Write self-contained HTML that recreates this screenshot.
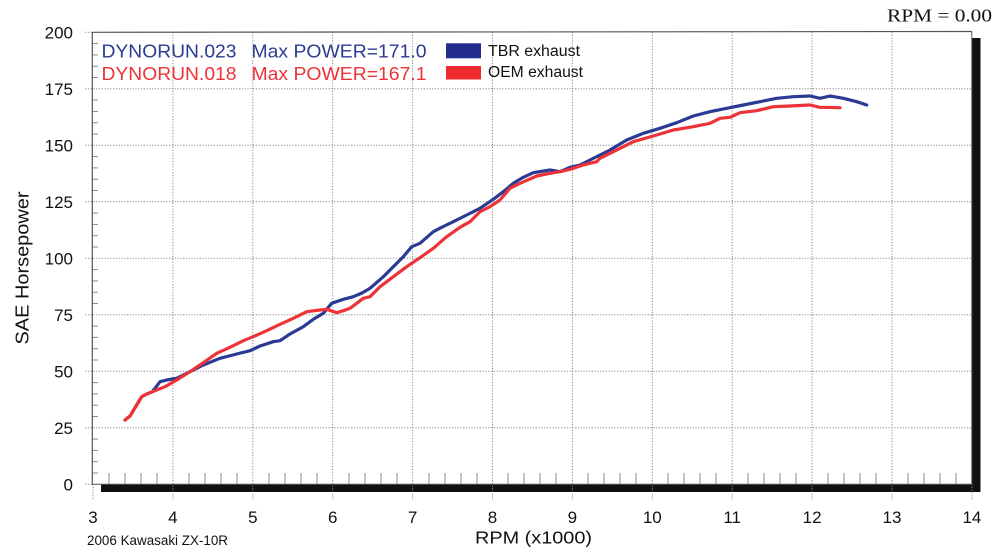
<!DOCTYPE html>
<html>
<head>
<meta charset="utf-8">
<style>
  html, body { margin: 0; padding: 0; background: #ffffff; }
  svg { display: block; }
  text { font-family: "Liberation Sans", Arial, sans-serif; }
</style>
</head>
<body>
<svg width="1000" height="554" viewBox="0 0 1000 554" xmlns="http://www.w3.org/2000/svg">
  <rect x="0" y="0" width="1000" height="554" fill="#ffffff"/>

  <!-- shadow bars -->
  <rect x="972" y="38" width="8.5" height="454" fill="#111"/>
  <rect x="101" y="484.5" width="879.5" height="7.5" fill="#111"/>

  <!-- grid: vertical -->
  <g stroke="#8a8a8a" stroke-width="1" stroke-dasharray="1.2,1.6" fill="none">
    <line x1="172.9" y1="32" x2="172.9" y2="500"/>
    <line x1="252.8" y1="32" x2="252.8" y2="500"/>
    <line x1="332.7" y1="32" x2="332.7" y2="500"/>
    <line x1="412.6" y1="32" x2="412.6" y2="500"/>
    <line x1="492.5" y1="32" x2="492.5" y2="500"/>
    <line x1="572.4" y1="32" x2="572.4" y2="500"/>
    <line x1="652.3" y1="32" x2="652.3" y2="500"/>
    <line x1="732.2" y1="32" x2="732.2" y2="500"/>
    <line x1="812.1" y1="32" x2="812.1" y2="500"/>
    <line x1="892.0" y1="32" x2="892.0" y2="500"/>
    <line x1="93" y1="484" x2="93" y2="500"/>
    <line x1="971.9" y1="484" x2="971.9" y2="500"/>
    <!-- horizontal -->
    <line x1="85" y1="427.8" x2="972" y2="427.8"/>
    <line x1="85" y1="371.3" x2="972" y2="371.3"/>
    <line x1="85" y1="314.8" x2="972" y2="314.8"/>
    <line x1="85" y1="258.3" x2="972" y2="258.3"/>
    <line x1="85" y1="201.8" x2="972" y2="201.8"/>
    <line x1="85" y1="145.3" x2="972" y2="145.3"/>
    <line x1="85" y1="88.8" x2="972" y2="88.8"/>
    <line x1="85" y1="32.3" x2="92" y2="32.3"/>
    <line x1="85" y1="484.3" x2="92" y2="484.3"/>
  </g>

  <!-- left minor ticks (every 5 hp) -->
  <g stroke="#8a8a8a" stroke-width="1">
    <line x1="92" y1="473" x2="98" y2="473"/><line x1="92" y1="461.7" x2="98" y2="461.7"/><line x1="92" y1="450.4" x2="98" y2="450.4"/><line x1="92" y1="439.1" x2="98" y2="439.1"/>
    <line x1="92" y1="416.5" x2="98" y2="416.5"/><line x1="92" y1="405.2" x2="98" y2="405.2"/><line x1="92" y1="393.9" x2="98" y2="393.9"/><line x1="92" y1="382.6" x2="98" y2="382.6"/>
    <line x1="92" y1="360" x2="98" y2="360"/><line x1="92" y1="348.7" x2="98" y2="348.7"/><line x1="92" y1="337.4" x2="98" y2="337.4"/><line x1="92" y1="326.1" x2="98" y2="326.1"/>
    <line x1="92" y1="303.5" x2="98" y2="303.5"/><line x1="92" y1="292.2" x2="98" y2="292.2"/><line x1="92" y1="280.9" x2="98" y2="280.9"/><line x1="92" y1="269.6" x2="98" y2="269.6"/>
    <line x1="92" y1="247" x2="98" y2="247"/><line x1="92" y1="235.7" x2="98" y2="235.7"/><line x1="92" y1="224.4" x2="98" y2="224.4"/><line x1="92" y1="213.1" x2="98" y2="213.1"/>
    <line x1="92" y1="190.5" x2="98" y2="190.5"/><line x1="92" y1="179.2" x2="98" y2="179.2"/><line x1="92" y1="167.9" x2="98" y2="167.9"/><line x1="92" y1="156.6" x2="98" y2="156.6"/>
    <line x1="92" y1="134" x2="98" y2="134"/><line x1="92" y1="122.7" x2="98" y2="122.7"/><line x1="92" y1="111.4" x2="98" y2="111.4"/><line x1="92" y1="100.1" x2="98" y2="100.1"/>
    <line x1="92" y1="77.5" x2="98" y2="77.5"/><line x1="92" y1="66.2" x2="98" y2="66.2"/><line x1="92" y1="54.9" x2="98" y2="54.9"/><line x1="92" y1="43.6" x2="98" y2="43.6"/>
  </g>

  <!-- bottom minor ticks (every 200 rpm) -->
  <g stroke="#8a8a8a" stroke-width="1" id="bt">
    <path d="M109,473V484 M125,473V484 M141,473V484 M157,473V484
             M189,473V484 M205,473V484 M221,473V484 M237,473V484
             M269,473V484 M285,473V484 M301,473V484 M317,473V484
             M349,473V484 M365,473V484 M381,473V484 M397,473V484
             M429,473V484 M445,473V484 M461,473V484 M477,473V484
             M508,473V484 M524,473V484 M540,473V484 M556,473V484
             M588,473V484 M604,473V484 M620,473V484 M636,473V484
             M668,473V484 M684,473V484 M700,473V484 M716,473V484
             M748,473V484 M764,473V484 M780,473V484 M796,473V484
             M828,473V484 M844,473V484 M860,473V484 M876,473V484
             M908,473V484 M924,473V484 M940,473V484 M956,473V484" fill="none"/>
  </g>

  <!-- plot borders -->
  <line x1="92" y1="32.3" x2="972" y2="31.5" stroke="#555" stroke-width="1.2"/>
  <line x1="92.3" y1="32" x2="92.3" y2="485" stroke="#555" stroke-width="1.2"/>
  <line x1="971.8" y1="31.5" x2="971.8" y2="485" stroke="#555" stroke-width="1"/>
  <line x1="92" y1="484.3" x2="972" y2="484.3" stroke="#555" stroke-width="1"/>

  <!-- blue: TBR exhaust -->
  <polyline fill="none" stroke="#2b3a92" stroke-width="3.2" stroke-linejoin="round" stroke-linecap="round"
    points="125,420 130,416 141.7,396.7 146.7,394 152,392 155,388.3 160,381.7 166.7,380 176.7,378.3 190,371.7 203.3,365 220,358.3 236.7,354 250,350.7 260,346 273.3,341.7 280,340.7 290,334 303.3,326.7 313.3,319.3 323.3,313.3 331.7,303.3 343.3,299.3 353.3,296.7 362,293 370,288.3 383.3,276.7 393.3,266.7 403.3,256.7 411.7,246.7 420,243.3 433.3,231.7 441.7,227.3 453.3,221.7 466.7,215 480,208.3 493.3,199.3 503.3,191.7 513.3,183.3 523.3,177.3 533.3,172.7 550,170 560,171.7 570,167.3 580,165 590,160 600,155 610,150 626.7,140 643.3,133.3 660,128.3 676.7,122.7 693.3,116 710,111.7 726.7,108.3 743.3,105 760,101.7 776.7,98.3 793.3,96.7 810,96 820,98.3 830,96 843.3,98.3 856.7,101.7 866.7,105"/>

  <!-- red: OEM exhaust -->
  <polyline fill="none" stroke="#ee3338" stroke-width="3.2" stroke-linejoin="round" stroke-linecap="round"
    points="125,420 130,416 141.7,396.7 146.7,394 156.7,390 165,386.7 176.7,380 190,371.7 203.3,362.7 216.7,353.3 230,347.3 243.3,340.7 253.3,336.7 266.7,330.7 280,324.3 293.3,318.3 306.7,311.7 320,310 326.7,309.3 336.7,312.7 343.3,310.7 350,308.3 356.7,303.3 363.3,298.3 370,296.7 380,286.7 393.3,276.7 406.7,266.7 420,257.7 433.3,248.3 446.7,236.7 460,227.3 470,221.7 480,211.7 490,206.7 500,200 510,188.3 520,183.3 536.7,176 550,173.3 560,171.7 570,169.3 583.3,165 596.7,161.7 600,158.3 613.3,151.7 633.3,141.7 653.3,136 673.3,130 693.3,126.7 710,123.3 720,118.3 730,117.3 740,112.7 756.7,110.7 773.3,106.7 790,106 810,105 820,107.3 840,107.7"/>

  <!-- legend text -->
  <text x="101.5" y="57.3" font-size="18" fill="#2b3a92" textLength="135" lengthAdjust="spacingAndGlyphs">DYNORUN.023</text>
  <text x="251.5" y="57.3" font-size="18" fill="#2b3a92" textLength="175" lengthAdjust="spacingAndGlyphs">Max POWER=171.0</text>
  <text x="101.5" y="79.8" font-size="18" fill="#ee3338" textLength="135" lengthAdjust="spacingAndGlyphs">DYNORUN.018</text>
  <text x="251.5" y="79.8" font-size="18" fill="#ee3338" textLength="175" lengthAdjust="spacingAndGlyphs">Max POWER=167.1</text>

  <rect x="446" y="43.3" width="35" height="15" fill="#232d8c"/>
  <rect x="446" y="66" width="35" height="13.5" fill="#ee2a2e"/>
  <text x="488" y="56" font-size="15.5" fill="#111" textLength="92" lengthAdjust="spacingAndGlyphs">TBR exhaust</text>
  <text x="488" y="77" font-size="15.5" fill="#111" textLength="95" lengthAdjust="spacingAndGlyphs">OEM exhaust</text>

  <!-- RPM = 0.00 -->
  <text x="887" y="21.5" font-size="18" fill="#111" style="font-family:'Liberation Serif','Times New Roman',serif" textLength="105" lengthAdjust="spacingAndGlyphs">RPM = 0.00</text>

  <!-- y tick labels -->
  <g font-size="17" fill="#111" text-anchor="end">
    <text x="73" y="38.3">200</text>
    <text x="73" y="94.8">175</text>
    <text x="73" y="151.3">150</text>
    <text x="73" y="207.8">125</text>
    <text x="73" y="264.3">100</text>
    <text x="73" y="320.8">75</text>
    <text x="73" y="377.3">50</text>
    <text x="73" y="433.8">25</text>
    <text x="73" y="490.3">0</text>
  </g>

  <!-- x tick labels -->
  <g font-size="17" fill="#111" text-anchor="middle">
    <text x="93" y="523">3</text>
    <text x="172.9" y="523">4</text>
    <text x="252.8" y="523">5</text>
    <text x="332.7" y="523">6</text>
    <text x="412.6" y="523">7</text>
    <text x="492.5" y="523">8</text>
    <text x="572.4" y="523">9</text>
    <text x="652.3" y="523">10</text>
    <text x="732.2" y="523">11</text>
    <text x="812.1" y="523">12</text>
    <text x="892" y="523">13</text>
    <text x="971.9" y="523">14</text>
  </g>

  <!-- axis titles -->
  <text x="475" y="543.3" font-size="17.5" fill="#111" textLength="117" lengthAdjust="spacingAndGlyphs">RPM (x1000)</text>
  <text x="87" y="545" font-size="13.5" fill="#111" textLength="141" lengthAdjust="spacingAndGlyphs">2006 Kawasaki ZX-10R</text>
  <text x="28.5" y="268" font-size="18" fill="#111" text-anchor="middle" textLength="153" lengthAdjust="spacingAndGlyphs" transform="rotate(-90 28.5 268)">SAE Horsepower</text>
</svg>
</body>
</html>
